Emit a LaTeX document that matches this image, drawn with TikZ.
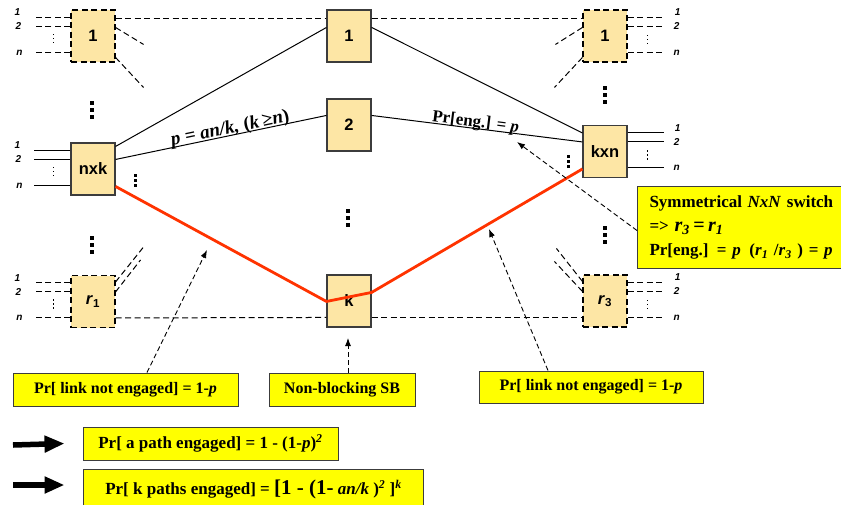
\documentclass[tikz,border=0pt]{standalone}
\usepackage{fontspec}
\setmainfont{Liberation Serif}
\setsansfont{Liberation Sans}
\usetikzlibrary{arrows.meta,calc}

\definecolor{boxfill}{RGB}{253,230,165}
\definecolor{notefill}{RGB}{255,255,0}
\definecolor{pathred}{RGB}{255,51,0}
\definecolor{edgegray}{RGB}{60,60,60}

\tikzset{
  sw/.style={draw=edgegray, line width=1.1pt, fill=boxfill, minimum width=44pt,
    minimum height=52pt, inner sep=0pt, font=\sffamily\bfseries\fontsize{16.5}{16.5}\selectfont},
  swdash/.style={sw, draw=black, dash pattern=on 6pt off 3.5pt},
  link/.style={line width=1pt, black},
  dlink/.style={line width=1pt, dash pattern=on 6pt off 3.5pt},
  busy/.style={line width=2.8pt, pathred, line join=round},
  notebox/.style={draw=edgegray, line width=1pt, fill=notefill, inner sep=0pt,
    font=\bfseries\fontsize{16}{18}\selectfont},
  callout/.style={line width=0.9pt, dash pattern=on 5pt off 3pt, -{Latex[length=8pt,width=6pt]}},
  portlbl/.style={font=\sffamily\bfseries\itshape\fontsize{10}{10}\selectfont, inner sep=0pt},
  fat/.style={line width=5.5pt, -{Triangle[length=20pt,width=16pt]}},
  linelbl/.style={sloped, above=-2.5pt, inner sep=0pt},
  bigdots/.pic={\foreach \d in {-7,0,7} \fill (-2.2,\d-2.2) rectangle (2.2,\d+2.2);},
  middots/.pic={\foreach \d in {-5,0,5} \fill (-1.5,\d-1.5) rectangle (1.5,\d+1.5);},
  tinydots/.pic={\foreach \d in {-4,0,4} \fill (-0.9,\d-0.9) rectangle (0.9,\d+0.9);},
}

\begin{document}
\begin{tikzpicture}[x=1pt,y=-1pt]
\useasboundingbox (0,0) rectangle (841,504);

% switch blocks
\node[swdash] (tl) at (93,36) {1};
\node[sw]     (nk) at (93,169) {nxk};
\node[swdash] (ra) at (93,301.5) {\textit{r}\textsubscript{1}};
\node[sw]     (c1) at (349,36) {1};
\node[sw]     (c2) at (349,125) {2};
\node[sw]     (ck) at (349,301) {k};
\node[swdash] (tr) at (605,36) {1};
\node[sw]     (kn) at (605,151.5) {kxn};
\node[swdash] (rb) at (605,301) {\textit{r}\textsubscript{3}};

% inlets and outlets of the outer stages
\foreach \b/\s in {tl/dlink,nk/link,ra/dlink} {
  \foreach \o in {8,17,43}
    \draw[\s] ([yshift=-\o pt]\b.north west) -- ++(-36,0);
  \node[portlbl] at ([xshift=-53pt,yshift=-3pt]\b.north west) {1};
  \node[portlbl] at ([xshift=-52pt,yshift=-17pt]\b.north west) {2};
  \node[portlbl] at ([xshift=-51pt,yshift=-43pt]\b.north west) {n};
  \pic at ([xshift=-17pt,yshift=-29pt]\b.north west) {tinydots};
}
\foreach \b/\s in {tr/dlink,kn/link,rb/dlink} {
  \foreach \o in {8,17,43}
    \draw[\s] ([yshift=-\o pt]\b.north east) -- ++(36,0);
  \node[portlbl] at ([xshift=50pt,yshift=-3pt]\b.north east) {1};
  \node[portlbl] at ([xshift=49pt,yshift=-17pt]\b.north east) {2};
  \node[portlbl] at ([xshift=49pt,yshift=-43pt]\b.north east) {n};
  \pic at ([xshift=20pt,yshift=-30pt]\b.north east) {tinydots};
}

% dashed links of the other first/last stage switches
\draw[dlink] ([yshift=-9pt]tl.north east) -- ([yshift=-9pt]c1.north west);
\draw[dlink] ([yshift=-9pt]c1.north east) -- ([yshift=-9pt]tr.north west);
\draw[dlink] ([yshift=-18pt]tl.north east) -- ++(28,17);
\draw[dlink] ([yshift=-48pt]tl.north east) -- ++(28,30);
\draw[dlink] ([yshift=-18pt]tr.north west) -- ++(-27,17);
\draw[dlink] ([yshift=-48pt]tr.north west) -- ++(-28,30);
\draw[dlink] ([yshift=-7pt]ra.north east) -- ++(28,-35);
\draw[dlink] ([yshift=-17pt]ra.north east) -- ++(25,-32);
\draw[dlink] ([yshift=-7pt]rb.north west) -- ++(-26,-33);
\draw[dlink] ([yshift=-17pt]rb.north west) -- ++(-28,-30);
\draw[dlink] ([yshift=-43pt]ra.north east) -- ([yshift=-43pt]ck.north west);
\draw[dlink] ([yshift=-43pt]ck.north east) -- ([yshift=-43pt]rb.north west);

% solid links through the middle stage
\draw[link] ([yshift=-4pt]nk.north east) -- ([yshift=-18pt]c1.north west);
\draw[link] ([yshift=-17pt]nk.north east) --
  node[linelbl, pos=0.55, font=\bfseries\fontsize{19}{19}\selectfont]
    {\textit{p = an/k,} (\textit{k}\,≥\textit{n})}
  ([yshift=-17pt]c2.north west);
\draw[link] ([yshift=-18pt]c1.north east) -- ([yshift=-8pt]kn.north west);
\draw[link] ([yshift=-17pt]c2.north east) --
  node[linelbl, pos=0.49, font=\bfseries\fontsize{17}{17}\selectfont]
    {Pr[eng.] = \textit{p}}
  ([yshift=-17pt]kn.north west);

% highlighted path through the k-th middle switch
\draw[busy] ([yshift=-44pt]nk.north east) -- ([yshift=-27pt]ck.north west)
  -- ([yshift=-18pt]ck.north east) -- ([yshift=-44pt]kn.north west);

% vertical ellipses
\pic at (92,110) {bigdots};
\pic at (92,245) {bigdots};
\pic at (605,95) {bigdots};
\pic at (605,235) {bigdots};
\pic at (348,218) {bigdots};
\pic at (135,180) {middots};
\pic at (568,161) {middots};

% annotation boxes
\node[notebox, anchor=north west, minimum width=201pt, minimum height=82pt,
      text width=188pt, inner xsep=12pt, align=left,
      font=\bfseries\fontsize{17}{24}\selectfont] (sym) at (637,186)
  {Symmetrical \textit{NxN} switch\\
   =\textgreater{} {\fontsize{20}{20}\selectfont\textit{r}\textsubscript{\textit{3}}\,=\,\textit{r}\textsubscript{\textit{1}}}\\
   Pr[eng.] = \textit{p} \,(\textit{r}\textsubscript{\textit{1}} /\textit{r}\textsubscript{\textit{3}} ) = \textit{p}};

\node[notebox, minimum width=225pt, minimum height=33pt] (lb) at (125.5,389.5)
  {Pr[ link not engaged] = 1-\textit{p}};
\node[notebox, minimum width=146pt, minimum height=33pt] (nb) at (342,389.5)
  {Non-blocking SB};
\node[notebox, minimum width=224pt, minimum height=32pt] (rl) at (591,387)
  {Pr[ link not engaged] = 1-\textit{p}};
\node[notebox, minimum width=255pt, minimum height=33pt,
      font=\bfseries\fontsize{17}{18}\selectfont] (pa) at (210.5,443.5)
  {Pr[ a path engaged] = 1 - (1-\textit{p})\textsuperscript{\textit{2}}};
\node[notebox, minimum width=340pt, minimum height=40pt, anchor=north west,
      font=\bfseries\fontsize{17}{18}\selectfont] (pk) at (83,469)
  {Pr[ k paths engaged] = {\fontsize{21}{21}\selectfont[1 - (1-} \textit{an/k} )\textsuperscript{\textit{2}} ]\textsuperscript{\textit{k}}};

% callout targets
\coordinate (tgL) at (207,250);
\coordinate (tgK) at (348,338);
\coordinate (tgR) at (489,229);
\coordinate (tgE) at (517,142);

\draw[callout] ([xshift=21.5pt]lb.north) -- (tgL);
\draw[callout] ([xshift=6pt]nb.north) -- (tgK);
\draw[callout] ([xshift=-43pt]rl.north) -- (tgR);
\draw[callout] ([yshift=-3pt]sym.west) -- (tgE);

% result arrows
\coordinate (fa) at (13,445);
\coordinate (fb) at (13,485);
\draw[fat] (fa) -- ([xshift=-18pt]pa.west);
\draw[fat] (fb) -- ([xshift=-18pt]pa.west |- fb);
\end{tikzpicture}
\end{document}
